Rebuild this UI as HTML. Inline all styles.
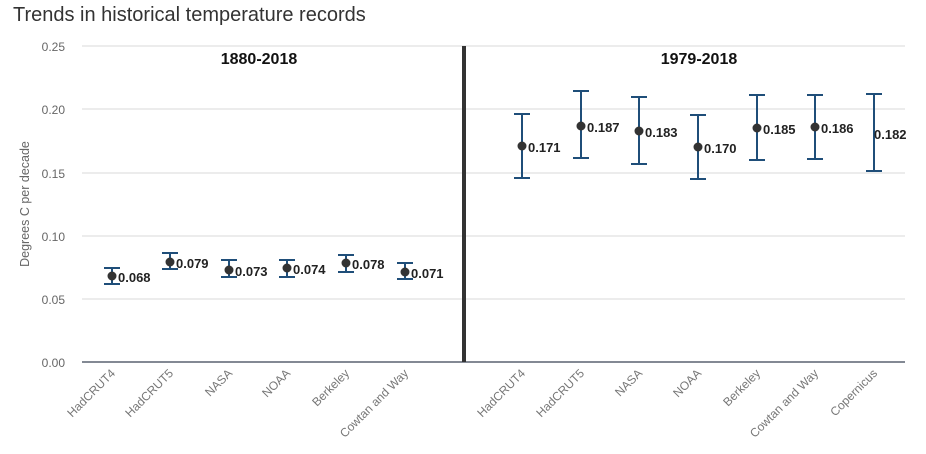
<!DOCTYPE html>
<html><head><style>
body{margin:0;background:#fff;}
svg{display:block;font-family:"Liberation Sans",sans-serif;}
</style></head><body>
<svg width="926" height="454" viewBox="0 0 926 454">
<text x="13" y="21" font-size="20" fill="#333">Trends in historical temperature records</text>
<g stroke="#e6e6e6" stroke-width="1.5">
<line x1="82" y1="46" x2="905" y2="46"/><line x1="82" y1="109" x2="905" y2="109"/>
<line x1="82" y1="173" x2="905" y2="173"/><line x1="82" y1="236" x2="905" y2="236"/>
<line x1="82" y1="299" x2="905" y2="299"/>
</g>
<line x1="82" y1="362" x2="905" y2="362" stroke="#5a6270" stroke-width="1.5"/>
<line x1="464" y1="46" x2="464" y2="362" stroke="#333" stroke-width="4"/>
<g font-size="12" fill="#666" text-anchor="end">
<text x="65" y="51">0.25</text><text x="65" y="114">0.20</text><text x="65" y="178">0.15</text>
<text x="65" y="241">0.10</text><text x="65" y="304">0.05</text><text x="65" y="367">0.00</text>
</g>
<text transform="translate(29,204) rotate(-90)" font-size="12.5" fill="#666" text-anchor="middle">Degrees C per decade</text>
<g font-size="16" font-weight="bold" fill="#111" text-anchor="middle">
<text x="259" y="64">1880-2018</text><text x="699" y="64">1979-2018</text>
</g>
<g stroke="#1f4e79" stroke-width="2" fill="none">
<path d="M112 268V284M104 268H120M104 284H120"/>
<path d="M170 253V269M162 253H178M162 269H178"/>
<path d="M229 260V277M221 260H237M221 277H237"/>
<path d="M287 260V277M279 260H295M279 277H295"/>
<path d="M346 255V272M338 255H354M338 272H354"/>
<path d="M405 263V279M397 263H413M397 279H413"/>
<path d="M522 114V178M514 114H530M514 178H530"/>
<path d="M581 91V158M573 91H589M573 158H589"/>
<path d="M639 97V164M631 97H647M631 164H647"/>
<path d="M698 115V179M690 115H706M690 179H706"/>
<path d="M757 95V160M749 95H765M749 160H765"/>
<path d="M815 95V159M807 95H823M807 159H823"/>
<path d="M874 94V171M866 94H882M866 171H882"/>
</g>
<g fill="#333">
<circle cx="112" cy="276" r="4.5"/><circle cx="170" cy="262" r="4.5"/><circle cx="229" cy="270" r="4.5"/>
<circle cx="287" cy="268" r="4.5"/><circle cx="346" cy="263" r="4.5"/><circle cx="405" cy="272" r="4.5"/>
<circle cx="522" cy="146" r="4.5"/><circle cx="581" cy="126" r="4.5"/><circle cx="639" cy="131" r="4.5"/>
<circle cx="698" cy="147" r="4.5"/><circle cx="757" cy="128" r="4.5"/><circle cx="815" cy="127" r="4.5"/>
</g>
<g font-size="13" font-weight="bold" fill="#222">
<text x="118" y="282">0.068</text><text x="176" y="268">0.079</text><text x="235" y="276">0.073</text>
<text x="293" y="274">0.074</text><text x="352" y="269">0.078</text><text x="411" y="278">0.071</text>
<text x="528" y="152">0.171</text><text x="587" y="132">0.187</text><text x="645" y="137">0.183</text>
<text x="704" y="153">0.170</text><text x="763" y="134">0.185</text><text x="821" y="133">0.186</text>
<text x="874" y="139">0.182</text>
</g>
<g font-size="12" fill="#777" text-anchor="end">
<text transform="translate(116,374) rotate(-45)">HadCRUT4</text>
<text transform="translate(174,374) rotate(-45)">HadCRUT5</text>
<text transform="translate(233,374) rotate(-45)">NASA</text>
<text transform="translate(291,374) rotate(-45)">NOAA</text>
<text transform="translate(350,374) rotate(-45)">Berkeley</text>
<text transform="translate(409,374) rotate(-45)">Cowtan and Way</text>
<text transform="translate(526,374) rotate(-45)">HadCRUT4</text>
<text transform="translate(585,374) rotate(-45)">HadCRUT5</text>
<text transform="translate(643,374) rotate(-45)">NASA</text>
<text transform="translate(702,374) rotate(-45)">NOAA</text>
<text transform="translate(761,374) rotate(-45)">Berkeley</text>
<text transform="translate(819,374) rotate(-45)">Cowtan and Way</text>
<text transform="translate(878,374) rotate(-45)">Copernicus</text>
</g>
</svg>
</body></html>
